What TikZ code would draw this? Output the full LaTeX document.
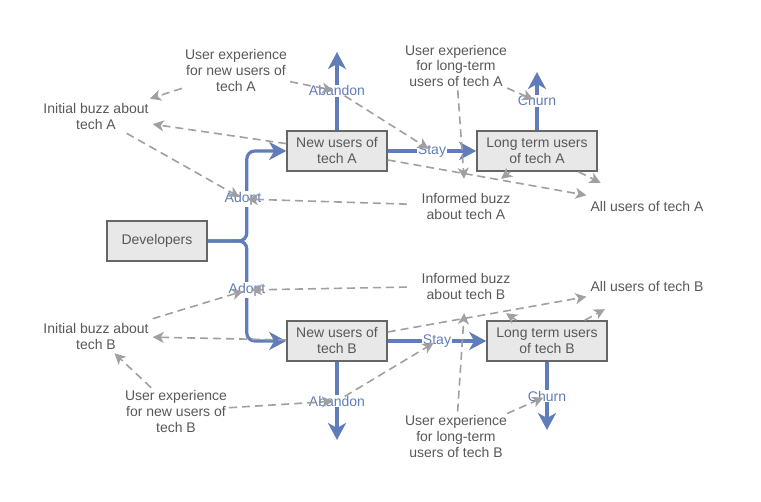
\documentclass[tikz,border=0pt]{standalone}
\usepackage{fontspec}
\setmainfont{Liberation Sans}
\usetikzlibrary{arrows.meta}

\definecolor{flowblue}{RGB}{96,125,185}
\definecolor{linkgray}{RGB}{160,160,160}
\definecolor{textgray}{RGB}{88,88,88}
\definecolor{stockfill}{RGB}{232,232,232}
\definecolor{stockline}{RGB}{102,102,102}

\begin{document}
\begin{tikzpicture}[
x=1pt, y=-1pt,
font=\fontsize{14}{16}\selectfont,
stock/.style={rectangle, draw=stockline, line width=1.6pt, fill=stockfill, text=textgray, minimum width=100pt, minimum height=40pt, align=center, inner sep=0pt},
var/.style={rectangle, text=textgray, align=center, inner sep=4pt},
flowlabel/.style={text=flowblue, fill=white, inner sep=1pt},
flow/.style={draw=flowblue, line width=3.2pt, rounded corners=8pt, -{Stealth[length=17pt, width=18pt, inset=5pt]}},
link/.style={draw=linkgray, line width=1.6pt, dash pattern=on 8pt off 5pt, -{Stealth[length=11pt, width=11pt, inset=3pt]}}
]
\useasboundingbox (0,0) rectangle (761,502);

% stocks
\node (dev) [stock] at (157,241) {Developers};
\node (newA) [stock] at (337,151) {New users of\\tech A};
\node (longA) [stock, minimum width=120pt] at (537,151) {Long term users\\of tech A};
\node (newB) [stock] at (337,341) {New users of\\tech B};
\node (longB) [stock, minimum width=120pt] at (547,341) {Long term users\\of tech B};

% free ends of the outflows
\coordinate (abandonAend) at (337,52);
\coordinate (churnAend) at (537,72);
\coordinate (abandonBend) at (337,440);
\coordinate (churnBend) at (547,430);

% flows
\draw [flow] (dev.east) -- ++(39,0) |- (newA.west);
\draw [flow] (dev.east) -- ++(39,0) |- (newB.west);
\draw [flow] (newA.north) -- (abandonAend);
\draw [flow] (newA.east) -- (longA.west);
\draw [flow] (longA.north) -- (churnAend);
\draw [flow] (newB.south) -- (abandonBend);
\draw [flow] (newB.east) -- (longB.west);
\draw [flow] (longB.south) -- (churnBend);

\node (adoptA) [flowlabel] at (243,199) {Adopt};
\node (abandonA) [flowlabel] at (337,91) {Abandon};
\node (stayA) [flowlabel] at (432,151) {Stay};
\node (churnA) [flowlabel] at (537,101) {Churn};
\node (adoptB) [flowlabel] at (247,290) {Adopt};
\node (abandonB) [flowlabel] at (337,401) {Abandon};
\node (stayB) [flowlabel] at (437,341) {Stay};
\node (churnB) [flowlabel] at (547,396) {Churn};

% variables
\node (uxnewA) [var, inner sep=3pt] at (236,71) {User experience\\for new users of\\tech A};
\node (buzzA) [var] at (96,116) {Initial buzz about\\tech A};
\node (uxlongA) [var, inner xsep=0pt, inner ysep=3pt] at (456,66) {User experience\\for long-term\\users of tech A};
\node (infA) [var, minimum width=118pt, minimum height=54pt] at (466,206) {Informed buzz\\about tech A};
\node (allA) [var, minimum width=120pt, minimum height=46pt] at (647,206) {All users of tech A};
\node (infB) [var, minimum width=118pt, minimum height=54pt] at (466,286) {Informed buzz\\about tech B};
\node (allB) [var, minimum width=120pt, minimum height=46pt] at (647,286) {All users of tech B};
\node (buzzB) [var] at (96,336) {Initial buzz about\\tech B};
\node (uxnewB) [var, inner sep=2pt] at (176,411) {User experience\\for new users of\\tech B};
\node (uxlongB) [var, inner xsep=0pt, inner ysep=3pt] at (456,436) {User experience\\for long-term\\users of tech B};

% links, tech A
\draw [link] (uxnewA) -- (buzzA);
\draw [link, shorten >=4pt] (uxnewA) -- (abandonA.center);
\draw [link, shorten <=9pt, shorten >=4pt] (abandonA.center) -- (stayA.center);
\draw [link] (newA) -- (buzzA);
\draw [link, shorten >=4pt] (buzzA) -- (adoptA.center);
\draw [link, shorten >=4pt] (infA) -- (adoptA.center);
\draw [link] (uxlongA) -- (infA);
\draw [link, shorten >=4pt] (uxlongA) -- (churnA.center);
\draw [link] (newA) -- (allA);
\draw [link] (longA) -- (infA);
\draw [link] (longA) -- (allA);

% links, tech B
\draw [link, shorten >=4pt] (buzzB) -- (adoptB.center);
\draw [link, shorten >=4pt] (infB) -- (adoptB.center);
\draw [link] (newB) -- (buzzB);
\draw [link] (uxnewB) -- (buzzB);
\draw [link, shorten >=4pt] (uxnewB) -- (abandonB.center);
\draw [link, shorten <=9pt, shorten >=4pt] (abandonB.center) -- (stayB.center);
\draw [link] (newB) -- (allB);
\draw [link] (uxlongB) -- (infB);
\draw [link] (longB) -- (infB);
\draw [link] (longB) -- (allB);
\draw [link, shorten >=4pt] (uxlongB) -- (churnB.center);

\end{tikzpicture}
\end{document}
